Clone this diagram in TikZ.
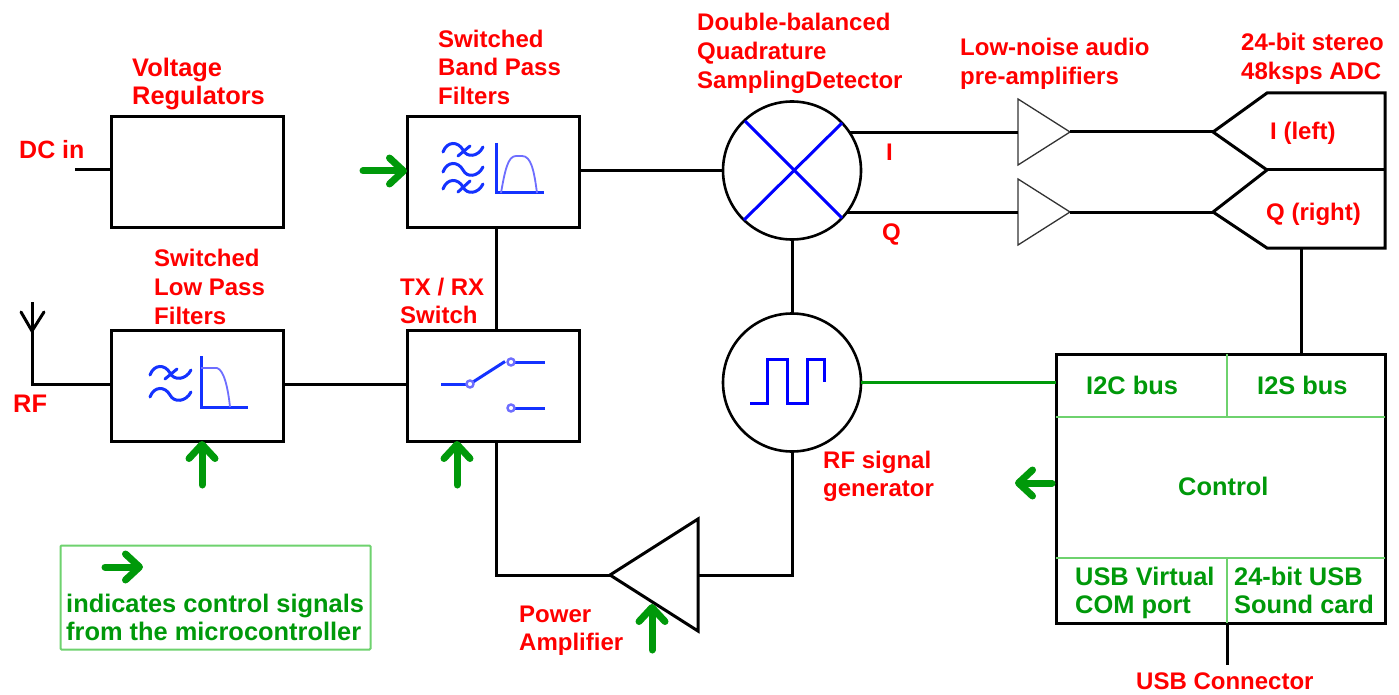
\documentclass[tikz,border=0pt]{standalone}
\usepackage{fontspec}
\setmainfont{Liberation Sans}
\usetikzlibrary{arrows.meta,shapes.geometric,calc}
\definecolor{ctrlgreen}{RGB}{0,153,10}
\definecolor{lightgreen}{RGB}{110,210,110}
\definecolor{iconblue}{RGB}{20,50,255}
\definecolor{curveblue}{RGB}{110,110,255}
\tikzset{
  blockbox/.style={draw=black,line width=3pt,rectangle,inner sep=0pt,outer sep=0pt,minimum width=172pt,minimum height=111pt},
  roundblock/.style={draw=black,line width=2.6pt,circle,inner sep=0pt,outer sep=0pt,minimum size=138pt},
  wire/.style={draw=black,line width=3pt},
  greenwire/.style={draw=ctrlgreen,line width=3pt},
  divider/.style={draw=lightgreen,line width=1.5pt},
  ctrlarrow/.style={draw=ctrlgreen,line width=7pt,line cap=round,-{Straight Barb[round,length=14pt,width=26pt]}},
  icon/.style={draw=iconblue,line width=3pt},
  sigline/.style={draw=blue,line width=3pt},
  curve/.style={draw=curveblue,line width=1.8pt},
  smallamp/.style={isosceles triangle,isosceles triangle stretches,shape border rotate=0,draw=black!80,line width=1.3pt,inner sep=0pt,outer sep=0pt,minimum width=66pt,minimum height=52pt,anchor=lower side},
  redlabel/.style={text=red,font=\fontsize{24}{28.7}\selectfont\bfseries,align=left,anchor=west,inner sep=0pt,execute at begin node=\strut,execute at end node=\strut},
  widered/.style={redlabel,font=\fontsize{25.4}{28.7}\selectfont\bfseries},
  greenlabel/.style={widered,text=ctrlgreen},
  edgelabel/.style={text=red,font=\fontsize{24}{28.7}\selectfont\bfseries,anchor=base west,inner sep=0pt},
}
\begin{document}
\begin{tikzpicture}[x=1pt,y=-1pt]
\useasboundingbox (0,0) rectangle (1399,695);
\fill[white] (0,0) rectangle (1399,695);

% blocks
\node[blockbox] (vreg) at (197.5,172) {};
\node[blockbox] (bpf) at (493,172) {};
\node[blockbox] (lpf) at (197.5,385.5) {};
\node[blockbox] (sw) at (493,385.5) {};
\node[roundblock] (mix) at (792,170.5) {};
\node[roundblock] (gen) at (792,382.5) {};
\node[draw=black,line width=3pt,rectangle,inner sep=0pt,outer sep=0pt,minimum width=329pt,minimum height=269pt] (ctl) at (1220.5,488.5) {};
\node[smallamp] (ampI) at (1018,132) {};
\node[smallamp] (ampQ) at (1018,212) {};
\node[isosceles triangle,isosceles triangle stretches,shape border rotate=180,draw=black,line width=3pt,inner sep=0pt,outer sep=0pt,minimum width=112pt,minimum height=88pt,anchor=apex] (pa) at (610,575) {};

% ADC outline
\coordinate (adcI) at (1213,132);
\coordinate (adcQ) at (1213,212);
\coordinate (adcMid) at (1267,170);
\coordinate (adcTop) at (1267,93);
\coordinate (adcBot) at (1267,248);
\coordinate (adcTR) at (1385,93);
\coordinate (adcBR) at (1385,248);
\coordinate (adcMR) at (1385,170);
\coordinate (adcOut) at (1301,248);
\draw[wire,line join=miter] (adcI) -- (adcTop) -- (adcTR) -- (adcBR) -- (adcBot) -- (adcQ) -- (adcMid) -- (adcI);
\draw[wire] (adcMid) -- (adcMR);

% connectors
\coordinate (dcin) at (75,170);
\coordinate (antJ) at (32,331);
\coordinate (antTop) at (32,302);
\coordinate (antL) at (21,312);
\coordinate (antR) at (44,312);
\coordinate (rfC) at (32,384);
\draw[wire] (dcin) -- (dcin -| vreg.west);
\draw[wire,line cap=round] (antL) -- (antJ) -- (antR);
\draw[wire] (antTop) -- (rfC) -- (rfC -| lpf.west);
\draw[wire] (lpf.east |- rfC) -- (sw.west |- rfC);
\draw[wire] (bpf.east |- mix.west) -- (mix.west);
\draw[wire] ([xshift=3.5pt]bpf.south) -- ([xshift=3.5pt]sw.north);
\draw[wire] (mix.south) -- (gen.north);
\draw[wire] (mix.33.4) -- (mix.33.4 -| ampI.lower side);
\coordinate (mixQo) at ($(mix.center)+(54.5,41.5)$);
\draw[wire] (mixQo) -- (ampQ.lower side);
\draw[wire] (ampI.apex) -- (adcI);
\draw[wire] (ampQ.apex) -- (adcQ);
\coordinate (swPa) at (496.5,575);
\draw[wire] ([xshift=3.5pt]sw.south) -- (swPa) -- (pa.apex);
\coordinate (genPa) at (792,575);
\draw[wire] (pa.lower side) -- (genPa) -- (gen.south);
\draw[wire] (adcOut) -- (adcOut |- ctl.north);
\coordinate (usbEnd) at (1227,665);
\draw[wire] (usbEnd |- ctl.south) -- (usbEnd);
\draw[greenwire] (gen.east) -- (gen.east -| ctl.west);

% control dividers
\draw[divider] (ctl.west |- 0,417) -- (ctl.east |- 0,417);
\draw[divider] (ctl.west |- 0,558) -- (ctl.east |- 0,558);
\draw[divider] (1227,354) -- (1227,417);
\draw[divider] (1227,558) -- (1227,623);

% mixer cross
\draw[sigline] (745,121) -- (842,218);
\draw[sigline] (842,123) -- (744,220);
% square wave
\draw[sigline,line join=miter] (750,403) -- (767,403) -- (767,359) -- (787,359) -- (787,403) -- (807,403) -- (807,359) -- (824,359) -- (824,382);

% BPF icon
\foreach \yy in {150,170,187}{
  \draw[icon,line cap=round] (443,\yy+2) .. controls (447,\yy-9) and (458,\yy-9) .. (463,\yy) .. controls (467,\yy+8) and (478,\yy+7) .. (483,\yy-3);
}
\draw[icon,line cap=round] (458,156) -- (470,146);
\draw[icon,line cap=round] (458,192) -- (470,181);
\draw[icon] (496,143) -- (496,193) -- (544,193);
\draw[curve] (501,193) .. controls (505,170) and (508,156) .. (516,156) -- (522,156) .. controls (531,156) and (534,170) .. (537,193);

% LPF icon
\foreach \yy in {373,395}{
  \draw[icon,line cap=round] (150,\yy+2) .. controls (154,\yy-9) and (165,\yy-9) .. (170,\yy) .. controls (174,\yy+8) and (186,\yy+7) .. (191,\yy-3);
}
\draw[icon,line cap=round] (165,379) -- (177,369);
\draw[icon] (201,356) -- (201,407) -- (248,407);
\draw[curve] (201,368) -- (217,368) .. controls (224,370) and (228,388) .. (230,407);

% switch icon
\draw[icon] (441,384) -- (466.5,384);
\draw[icon] (473,382) -- (505,361.5);
\draw[icon] (515,362) -- (545,362);
\draw[icon] (515,408) -- (545,408);
\draw[draw=curveblue,line width=2.4pt,fill=white] (470,384) circle (3.5pt);
\draw[draw=curveblue,line width=2.4pt,fill=white] (511,362) circle (3.5pt);
\draw[draw=curveblue,line width=2.4pt,fill=white] (511,408) circle (3.5pt);

% control arrows
\coordinate (arrBpf) at (363,171);
\coordinate (arrLpf) at (202,485);
\coordinate (arrSw) at (457,485);
\coordinate (arrPa) at (652,650);
\coordinate (arrPaTip) at (652,604);
\coordinate (arrCtl) at (1052,483);
\coordinate (arrCtlTip) at (1015,483);
\coordinate (arrKey) at (105,567);
\coordinate (arrKeyTip) at (143,567);
\draw[ctrlarrow] (arrBpf) -- (arrBpf -| bpf.west);
\draw[ctrlarrow] (arrLpf) -- (arrLpf |- lpf.south);
\draw[ctrlarrow] (arrSw) -- (arrSw |- sw.south);
\draw[ctrlarrow] (arrPa) -- (arrPaTip);
\draw[ctrlarrow] (arrCtl) -- (arrCtlTip);
\draw[ctrlarrow] (arrKey) -- (arrKeyTip);

% legend box
\node[draw=lightgreen,line width=2pt,rectangle,rounded corners=1pt,inner sep=0pt,minimum width=310pt,minimum height=104pt] (key) at (215.5,597.5) {};

% labels
\node[widered] (tVreg) at (132,85.5) {Voltage\\Regulators};
\node[redlabel] (tBpf) at (438,71.5) {Switched\\Band Pass\\Filters};
\node[redlabel] (tMix) at (697,55) {Double-balanced\\Quadrature\\SamplingDetector};
\node[redlabel] (tLna) at (960,65.5) {Low-noise audio\\pre-amplifiers};
\node[redlabel] (tAdc) at (1241,60.5) {24-bit stereo\\48ksps ADC};
\node[redlabel,font=\fontsize{25}{28.7}\selectfont\bfseries] (tDc) at (19,153) {DC in};
\node[redlabel] (tI) at (886,155) {I};
\node[redlabel] (tQ) at (882,235) {Q};
\node[redlabel] (tLeft) at (1270,134) {I (left)};
\node[redlabel] (tRight) at (1266,215) {Q (right)};
\node[redlabel] (tLpf) at (154,291) {Switched\\Low Pass\\Filters};
\node[redlabel] (tSw) at (400,305) {TX / RX\\Switch};
\node[widered] (tRf) at (13,407) {RF};
\node[redlabel] (tGen) at (823,478) {RF signal\\generator};
\node[redlabel] (tPa) at (519,632.5) {Power\\Amplifier};
\node[edgelabel] (tUsb) at (1136,689.5) {USB Connector};
\node[greenlabel] (tI2c) at (1086,389) {I2C bus};
\node[greenlabel] (tI2s) at (1257,389) {I2S bus};
\node[greenlabel] (tCtl) at (1178,490) {Control};
\node[greenlabel] (tVcp) at (1075,594.5) {USB Virtual\\COM port};
\node[greenlabel] (tSnd) at (1234,594.5) {24-bit USB\\Sound card};
\node[greenlabel] (tKey) at (66,621.5) {indicates control signals\\from the microcontroller};
\end{tikzpicture}
\end{document}
